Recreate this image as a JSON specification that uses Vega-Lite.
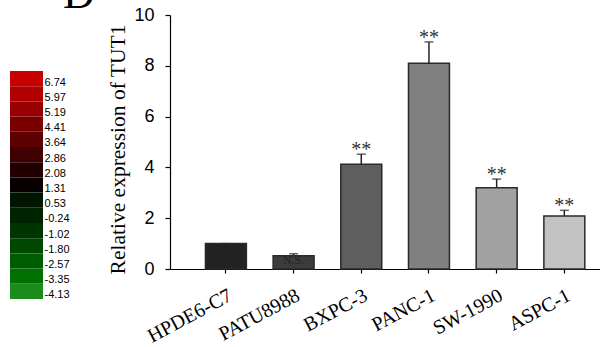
{
  "$schema": "https://vega.github.io/schema/vega-lite/v6.json",
  "background": "white",
  "padding": {"left": 10, "top": -27, "right": 0, "bottom": 0},
  "bounds": "flush",
  "spacing": 127,
  "resolve": {"scale": {"color": "independent"}},
  "config": {"view": {"stroke": null}, "font": "Liberation Serif"},
  "title": {"text": "D", "anchor": "start", "frame": "group", "fontSize": 44, "font": "Liberation Serif", "fontWeight": "normal", "color": "#000", "dx": 53, "dy": 46, "offset": 0, "baseline": "alphabetic"},
  "hconcat": [
    {
      "width": 33,
      "height": 284,
      "data": {"values": [
        {"v": "6.74"}, {"v": "5.97"}, {"v": "5.19"}, {"v": "4.41"}, {"v": "3.64"},
        {"v": "2.86"}, {"v": "2.08"}, {"v": "1.31"}, {"v": "0.53"}, {"v": "-0.24"},
        {"v": "-1.02"}, {"v": "-1.80"}, {"v": "-2.57"}, {"v": "-3.35"}, {"v": "-4.13"}
      ]},
      "mark": {"type": "rect"},
      "encoding": {
        "y": {"field": "v", "type": "ordinal", "sort": null,
          "scale": {"paddingInner": 0, "paddingOuter": 0, "range": [56, 284]},
          "axis": {"orient": "right", "domain": false, "ticks": false, "title": null, "labelFont": "Liberation Sans", "labelFontSize": 11, "labelPadding": 1, "labelOffset": 4, "labelColor": "#000"}},
        "color": {"field": "v", "type": "ordinal", "sort": null, "legend": null,
          "scale": {"range": ["#c80000", "#b00000", "#960000", "#7a0000", "#5c0000", "#3e0000", "#220000", "#080000", "#001600", "#002400", "#003400", "#004800", "#005c00", "#007000", "#1a8c1a"]}}
      }
    },
    {
      "width": 430,
      "height": 254,
      "data": {"values": [
        {"cell": "HPDE6-C7", "mean": 1.0, "upper": 1.0, "sig": ""},
        {"cell": "PATU8988", "mean": 0.52, "upper": 0.6, "sig": "N.S."},
        {"cell": "BXPC-3", "mean": 4.12, "upper": 4.52, "sig": "**"},
        {"cell": "PANC-1", "mean": 8.1, "upper": 8.94, "sig": "**"},
        {"cell": "SW-1990", "mean": 3.2, "upper": 3.54, "sig": "**"},
        {"cell": "ASPC-1", "mean": 2.09, "upper": 2.31, "sig": "**"}
      ]},
      "encoding": {
        "x": {"field": "cell", "type": "nominal", "sort": null,
          "scale": {"paddingInner": 0.395, "paddingOuter": 0.374, "align": 0.7},
          "axis": {"title": null, "labelAngle": -28, "labelFont": "Liberation Serif", "labelFontSize": 20, "labelColor": "#000", "labelPadding": 12, "tickSize": 4, "tickColor": "#000", "domainColor": "#000", "domainWidth": 1.2, "tickWidth": 1.2}}
      },
      "layer": [
        {
          "mark": {"type": "rule", "color": "#222", "strokeWidth": 1.5},
          "encoding": {"y": {"field": "mean", "type": "quantitative"}, "y2": {"field": "upper"}}
        },
        {
          "mark": {"type": "tick", "orient": "horizontal", "size": 9, "thickness": 1.5, "color": "#222"},
          "encoding": {"y": {"field": "upper", "type": "quantitative"}}
        },
        {
          "mark": {"type": "bar", "stroke": "#2a2a2a", "strokeWidth": 1.5},
          "encoding": {
            "y": {"field": "mean", "type": "quantitative", "scale": {"domain": [0, 10]},
              "axis": {"title": "Relative expression of TUT1", "titleFont": "Liberation Serif", "titleFontSize": 21.5, "titleFontWeight": "normal", "titleColor": "#000", "titlePadding": 4, "titleY": 134,
                "labelFont": "Liberation Sans", "labelFontSize": 18, "labelColor": "#000", "labelPadding": 11, "values": [0, 2, 4, 6, 8, 10], "grid": false,
                "domainColor": "#000", "domainWidth": 1.2, "tickColor": "#000", "tickWidth": 1.2, "tickSize": 5}},
            "color": {"field": "cell", "type": "nominal", "sort": null, "legend": null,
              "scale": {"range": ["#222222", "#3c3c3c", "#5e5e5e", "#808080", "#a2a2a2", "#c2c2c2"]}}
          }
        },
        {
          "transform": [{"filter": "datum.sig == '**'"}],
          "mark": {"type": "text", "font": "Liberation Serif", "fontSize": 20, "color": "#333", "baseline": "alphabetic", "dy": 2},
          "encoding": {"y": {"field": "upper", "type": "quantitative"}, "text": {"field": "sig"}}
        },
        {
          "transform": [{"filter": "datum.sig == 'N.S.'"}],
          "mark": {"type": "text", "font": "Liberation Serif", "fontSize": 12, "color": "#222", "baseline": "alphabetic", "dy": 8},
          "encoding": {"y": {"field": "mean", "type": "quantitative"}, "text": {"field": "sig"}}
        }
      ]
    }
  ]
}
